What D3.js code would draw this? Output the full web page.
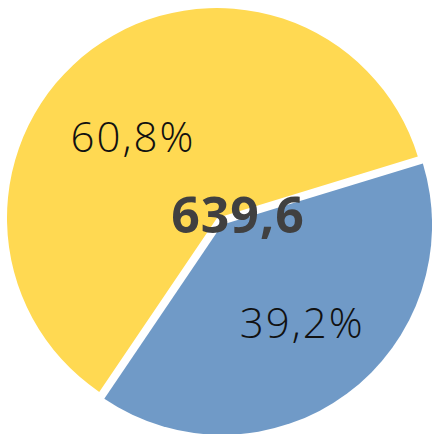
<!DOCTYPE html>
<html>
<head>
<meta charset="utf-8">
<script src="https://cdn.jsdelivr.net/npm/d3@7"></script>
<style>
  html, body { margin: 0; padding: 0; background: #fff; }
  svg { display: block; }
</style>
</head>
<body>
<main></main>
<script>
const categories = ["B", "A"]
const values = [250.7, 388.9]
const percentLabels = ["39,2%", "60,8%"]
const totalLabel = "639,6"

const w = 432
const h = 434
const cx = 217
const cy = 218
const radius = 210
const colors = ["#709AC7", "#FFD952"]
const explode = [8.5, 0]
// label placement: radius ratio and angle nudge (deg)
const labelTweak = [{ r: 0.603, da: -2.8 }, { r: 0.556, da: -9.6 }]

const svg = d3.select("main").append("svg").attr("width", w).attr("height", h)

const start = (73 * Math.PI) / 180
const pie = d3.pie().sort(null).startAngle(start).endAngle(start + 2 * Math.PI)
const arcs = pie(values)

const arc = d3.arc().innerRadius(0).outerRadius(radius)

const g = svg.append("g").attr("transform", `translate(${cx},${cy})`)

const mid = (d) => (d.startAngle + d.endAngle) / 2

const slices = g
  .selectAll("g.slice")
  .data(arcs)
  .enter()
  .append("g")
  .attr("class", "slice")
  .attr("transform", (d, i) => {
    const a = mid(d)
    return `translate(${Math.sin(a) * explode[i]},${-Math.cos(a) * explode[i]})`
  })

slices
  .append("path")
  .attr("d", arc)
  .attr("fill", (d, i) => colors[i])

slices
  .append("text")
  .attr("x", (d, i) => {
    const a = mid(d) + (labelTweak[i].da * Math.PI) / 180
    return Math.sin(a) * radius * labelTweak[i].r
  })
  .attr("y", (d, i) => {
    const a = mid(d) + (labelTweak[i].da * Math.PI) / 180
    return -Math.cos(a) * radius * labelTweak[i].r
  })
  .attr("dy", "0.36em")
  .attr("text-anchor", "middle")
  .attr("font-family", "'Open Sans', sans-serif")
  .attr("font-weight", 300)
  .attr("font-size", 42)
  .attr("letter-spacing", 2)
  .attr("fill", "#111")
  .text((d, i) => percentLabels[i])

svg
  .append("text")
  .attr("x", 238)
  .attr("y", 233)
  .attr("text-anchor", "middle")
  .attr("font-family", "'Open Sans', sans-serif")
  .attr("font-weight", 700)
  .attr("font-size", 50)
  .attr("letter-spacing", 1)
  .attr("fill", "#404040")
  .text(totalLabel)
</script>
</body>
</html>
